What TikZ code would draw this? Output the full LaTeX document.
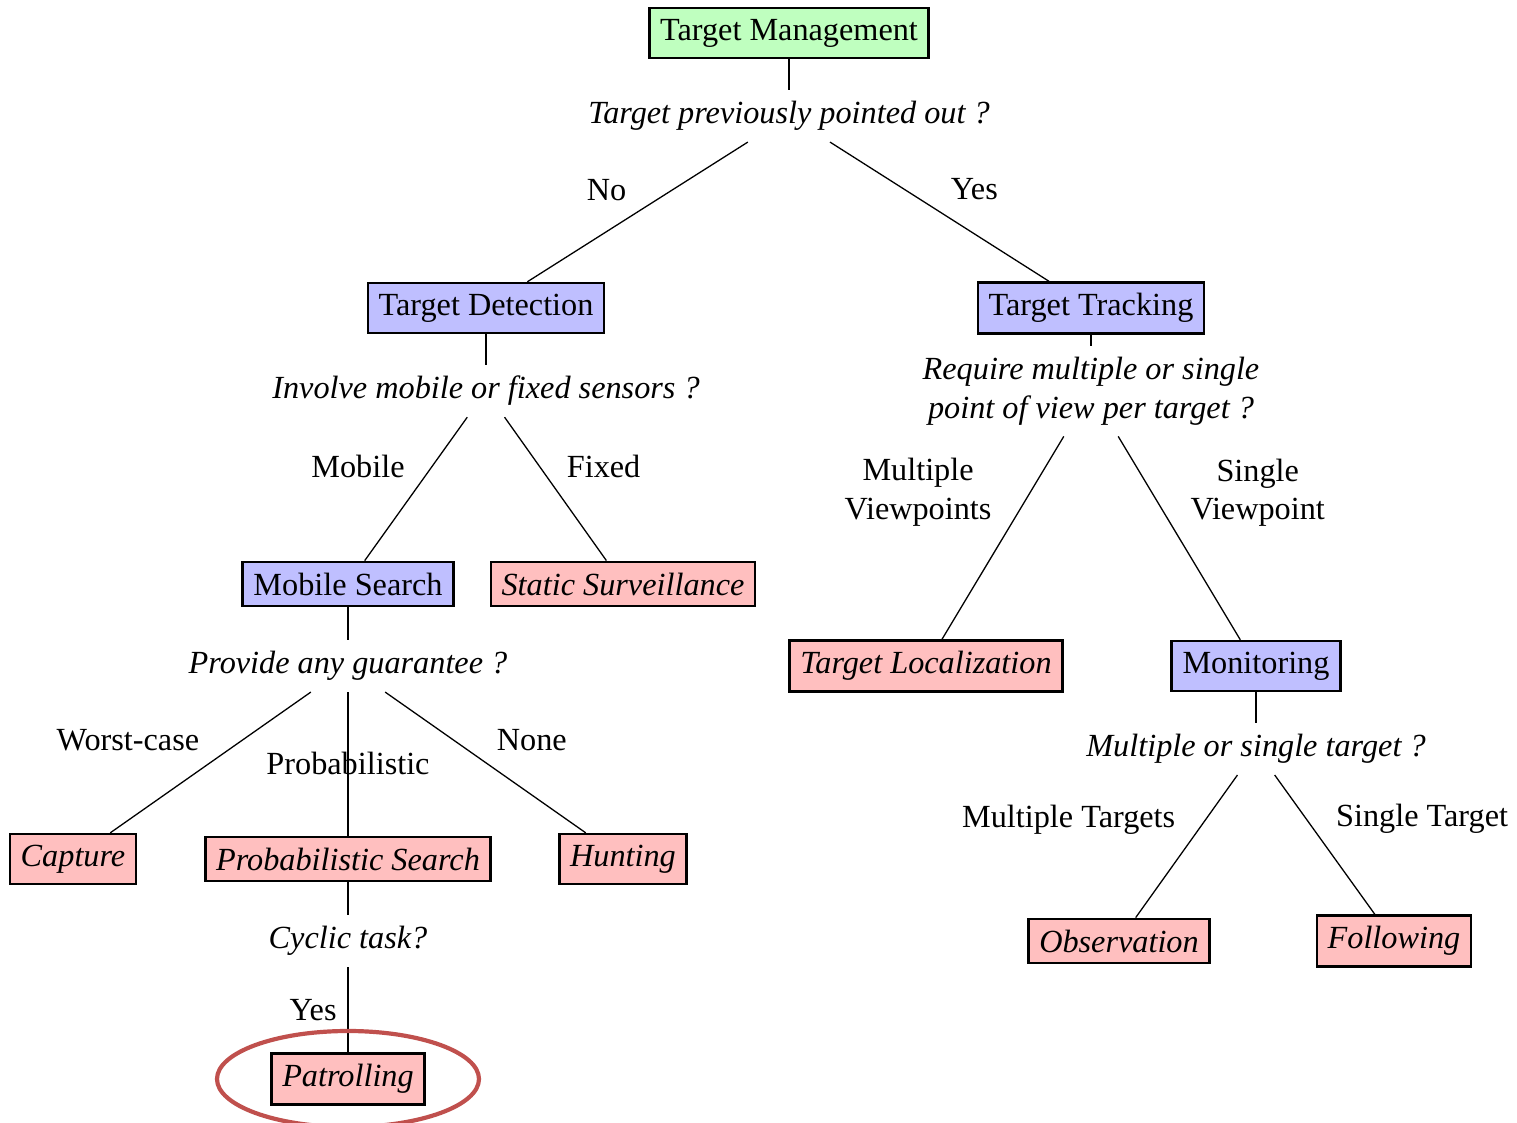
\documentclass[tikz,border=0pt]{standalone}
\usepackage{fontspec}
\setmainfont{Liberation Serif}
\usepackage{amsmath,amssymb}

\begin{document}
\begin{tikzpicture}[x=0.0109cm,y=-0.0109cm,
  root/.style={draw,thick,fill=green!25},
  task/.style={draw,thick,fill=blue!25},
  leaf/.style={draw,thick,fill=red!25,font=\itshape},
  query/.style={font=\itshape,align=center}]
\useasboundingbox (0,0) rectangle (1517,1123);
\node[root] (tm) at (789,33) {Target Management};
\node[query] (q1) at (789,116) {Target previously pointed out ?};
\node[task] (td) at (486,308) {Target Detection};
\node[task] (tt) at (1091,308) {Target Tracking};
\node[query] (q2) at (486,391) {Involve mobile or fixed sensors ?};
\node[query] (q3) at (1091,391) {Require multiple or single\\point of view per target ?};
\node[task] (ms) at (348,584) {Mobile Search};
\node[leaf] (ss) at (623,584) {Static Surveillance};
\node[query] (q4) at (348,666) {Provide any guarantee ?};
\node[leaf] (tl) at (926,666) {Target Localization};
\node[task] (mon) at (1256,666) {Monitoring};
\node[query] (q5) at (1256,749) {Multiple or single target ?};
\node[leaf] (cap) at (73,859) {Capture};
\node[leaf] (ps) at (348,859) {Probabilistic Search};
\node[leaf] (hunt) at (623,859) {Hunting};
\node[leaf] (obs) at (1119,941) {Observation};
\node[leaf] (fol) at (1394,941) {Following};
\node[query] (q6) at (348,941) {Cyclic task?};
\node[leaf] (pat) at (348,1079) {Patrolling};
\draw (tm) -- (q1);
\draw (q1) -- (td) node[midway,above left] (lno) {No};
\draw (q1) -- (tt) node[midway,above right] (lyes) {Yes};
\draw (td) -- (q2);
\draw (q2) -- (ms) node[midway,above left] (lmob) {Mobile};
\draw (q2) -- (ss) node[midway,above right] (lfix) {Fixed};
\draw (tt) -- (q3);
\draw (q3) -- (tl) node[midway,above left,align=center] (lmv) {Multiple\\Viewpoints};
\draw (q3) -- (mon) node[midway,above right,align=center] (lsv) {Single\\Viewpoint};
\draw (ms) -- (q4);
\draw (q4) -- (cap) node[midway,above left] (lwc) {Worst-case};
\draw (q4) -- (ps) node[midway] (lprob) {Probabilistic};
\draw (q4) -- (hunt) node[midway,above right] (lnone) {None};
\draw (mon) -- (q5);
\draw (q5) -- (obs) node[midway,above left] (lmt) {Multiple Targets};
\draw (q5) -- (fol) node[midway,above right] (lst) {Single Target};
\draw (ps) -- (q6);
\draw (q6) -- (pat) node[midway,left] (lcyc) {Yes};
\draw[line width=1.3pt,draw={rgb,255:red,192;green,80;blue,77}] (pat) ellipse (131 and 48);
\end{tikzpicture}
\end{document}
